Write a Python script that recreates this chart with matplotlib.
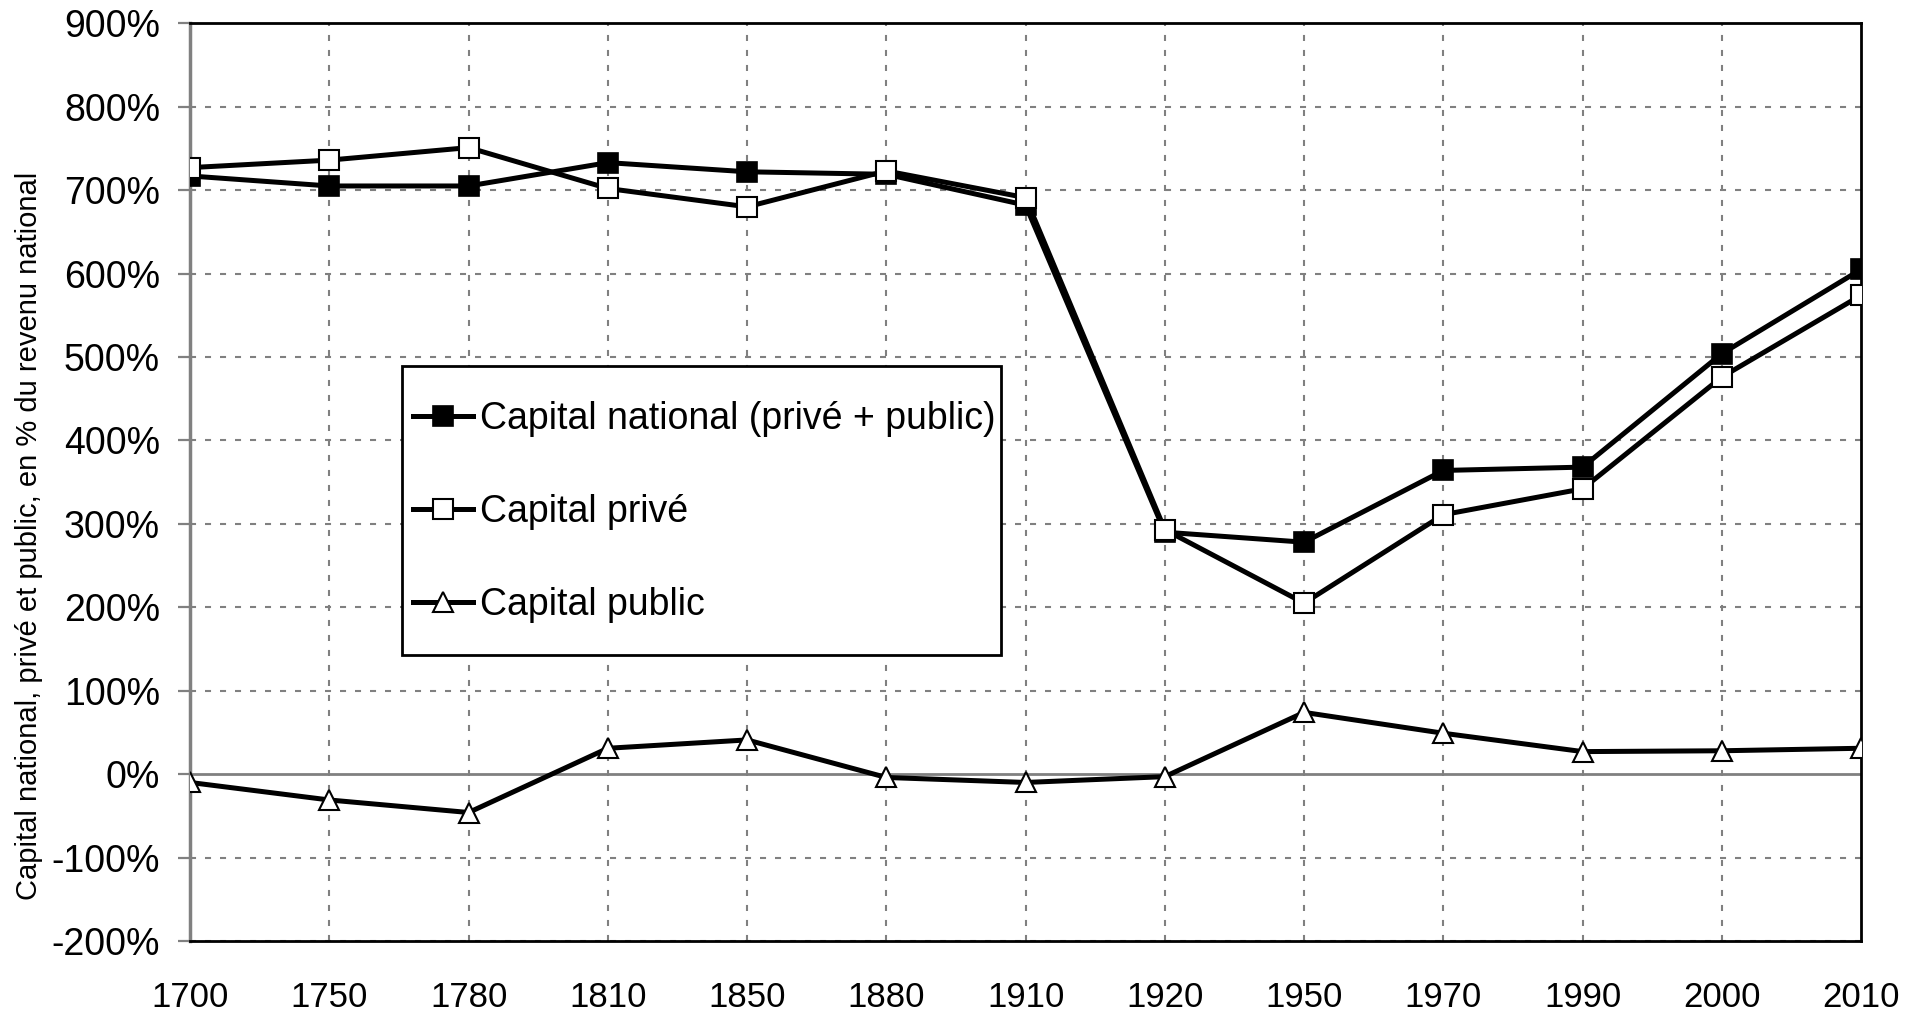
import matplotlib
matplotlib.use("Agg")
import matplotlib.pyplot as plt
from matplotlib.ticker import FuncFormatter
from matplotlib.patches import Rectangle

plt.rcParams['font.family'] = ['Liberation Sans', 'DejaVu Sans']

years = ['1700', '1750', '1780', '1810', '1850', '1880', '1910', '1920', '1950', '1970', '1990', '2000', '2010']
capital_national = [717, 705, 705, 733, 722, 719, 682, 290, 278, 364, 368, 504, 605]
capital_prive = [727, 736, 751, 702, 680, 723, 691, 293, 205, 311, 342, 476, 574]
capital_public = [-10, -31, -46, 31, 41, -4, -10, -3, 74, 49, 27, 28, 31]

labels = ['Capital national (privé + public)', 'Capital privé', 'Capital public']
ylabel = 'Capital national, privé et public, en % du revenu national'

fig = plt.figure(figsize=(19.26, 10.13), dpi=100)
ax = fig.add_axes([0.0987, 0.0711, 0.8676, 0.9059])

x = list(range(len(years)))
grid_kw = dict(color='#808080', linewidth=1.5, linestyle=(0, (2.9, 4.3)), zorder=1)
for v in range(-200, 901, 100):
    if v != 0:
        ax.axhline(v, **grid_kw)
for xi in x[1:-1]:
    ax.axvline(xi, **grid_kw)
ax.axhline(0, color='#808080', linewidth=2, zorder=1)

lw = 3.6
ms = 14.4
ax.plot(x, capital_national, color='black', lw=lw, marker='s', ms=ms,
        mfc='black', mec='black', mew=1.2, label=labels[0], zorder=3)
ax.plot(x, capital_prive, color='black', lw=lw, marker='s', ms=ms,
        mfc='white', mec='black', mew=1.5, label=labels[1], zorder=4)
ax.plot(x, capital_public, color='black', lw=lw, marker='^', ms=ms + 0.6,
        mfc='white', mec='black', mew=1.5, label=labels[2], zorder=4)

ax.set_xlim(0, 12)
ax.set_ylim(-200, 900)
ax.set_yticks(range(-200, 901, 100))
ax.yaxis.set_major_formatter(FuncFormatter(lambda v, p: f'{int(v)}%'))
ax.set_xticks(x)
ax.set_xticklabels(years)
ax.tick_params(axis='y', labelsize=27, length=8.6, width=1.6, color='#808080', direction='out', pad=13)
ax.tick_params(axis='x', labelsize=25, length=0, pad=29)

for s in ['top', 'right', 'bottom']:
    ax.spines[s].set_color('black')
    ax.spines[s].set_linewidth(2)
ax.spines['left'].set_color('#808080')
ax.spines['left'].set_linewidth(2.5)

ax.set_ylabel(ylabel, fontsize=21)
ax.yaxis.set_label_coords(-0.088, 0.441)

# legend box
bx0, bx1, by0, by1 = 0.1266, 0.4852, 0.3121, 0.6264
rect = Rectangle((bx0, by0), bx1 - bx0, by1 - by0, transform=ax.transAxes,
                 facecolor='white', edgecolor='black', linewidth=2, zorder=5)
ax.add_patch(rect)
leg = ax.legend(loc='upper left', bbox_to_anchor=(bx0 + 0.0066, by1 - 0.038), fontsize=27,
                frameon=False, handlelength=1.6, handletextpad=0.2, labelspacing=1.52,
                borderpad=0, markerscale=1, borderaxespad=0)
leg.set_zorder(6)

fig.savefig('out.png', dpi=100)
